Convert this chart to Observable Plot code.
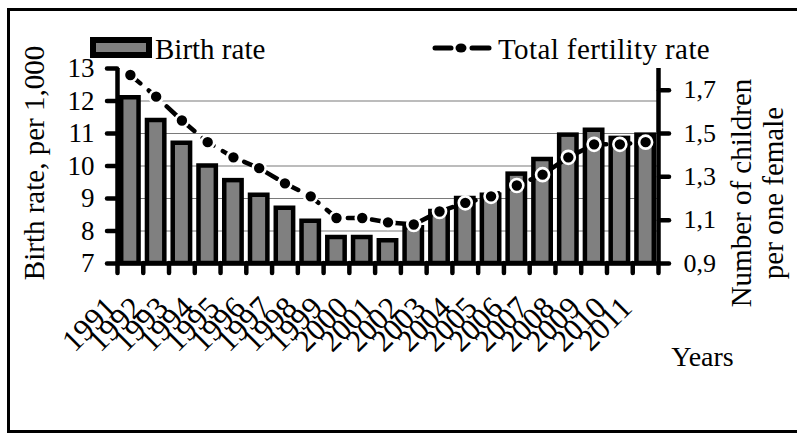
<!DOCTYPE html>
<html>
<head>
<meta charset="utf-8">
<script src="https://cdn.jsdelivr.net/npm/d3@7"></script>
<script src="https://cdn.jsdelivr.net/npm/@observablehq/plot@0.6"></script>
<style>
  html, body { margin: 0; padding: 0; background: #fff; overflow: hidden; }
  #wrap { position: relative; width: 797px; height: 434px; overflow: hidden; font-family: "Liberation Serif", "Times New Roman", serif; }
  #frame { position: absolute; left: 7px; top: 8px; width: 900px; height: 425px; border: 3px solid #000; box-sizing: border-box; pointer-events: none; }
  #chart { position: absolute; left: 0; top: 0; }
  #legend { position: absolute; left: 0; top: 0; pointer-events: none; }
</style>
</head>
<body>
<div id="wrap">
  <div id="frame"></div>
  <div id="chart"></div>
  <svg id="legend" width="797" height="434" font-family="Liberation Serif, Times New Roman, serif">
    <rect x="93" y="40" width="56" height="15" fill="#808080" stroke="#000" stroke-width="6"></rect>
    <text x="155" y="59" font-size="29">Birth rate</text>
    <line x1="435" x2="451" y1="48" y2="48" stroke="#000" stroke-width="5" stroke-linecap="round"></line>
    <ellipse cx="461" cy="48" rx="5.5" ry="4.5" fill="#000"></ellipse>
    <line x1="472" x2="489" y1="48" y2="48" stroke="#000" stroke-width="5" stroke-linecap="round"></line>
    <text x="498" y="59" font-size="29" letter-spacing="0.4">Total fertility rate</text>
  </svg>
</div>
<script>
// ---- data ----
const years = [1991, 1992, 1993, 1994, 1995, 1996, 1997, 1998, 1999, 2000, 2001,
               2002, 2003, 2004, 2005, 2006, 2007, 2008, 2009, 2010, 2011];
const birthRate = [12.1, 11.4, 10.7, 10.0, 9.55, 9.1, 8.7, 8.3, 7.8, 7.8, 7.7,
                   8.1, 8.6, 9.0, 9.1, 9.75, 10.2, 10.95, 11.1, 10.85, 10.95];
const fertilityRate = [1.77, 1.67, 1.56, 1.46, 1.39, 1.34, 1.27, 1.21, 1.11, 1.11, 1.09,
                       1.08, 1.14, 1.18, 1.21, 1.26, 1.31, 1.39, 1.45, 1.45, 1.46];
const leftTicks = [7, 8, 9, 10, 11, 12, 13];
const gridTicks = [8, 9, 10, 11, 12];
const rightTicks = [0.9, 1.1, 1.3, 1.5, 1.7];
const leftDomain = [7, 13];
const rightDomain = [0.9, 1.8];
const leftTitle = "Birth rate, per 1,000";
const rightTitle = "Number of children\nper one female";
const xTitle = "Years";

// ---- derived ----
const data = years.map((year, i) => ({year, birth: birthRate[i], tfr: fertilityRate[i]}));
const tfrToLeft = d3.scaleLinear().domain(rightDomain).range(leftDomain);
const xDomain = [years[0] - 0.5, years[years.length - 1] + 0.5];
const boundaries = years.map(y => y - 0.5).concat([years[years.length - 1] + 0.5]);
const serif = "Liberation Serif, Times New Roman, serif";
const commaFmt = d => d.toFixed(1).replace(".", ",");

const chart = Plot.plot({
  width: 797,
  height: 434,
  marginLeft: 117,
  marginRight: 139,
  marginTop: 68,
  marginBottom: 171,
  style: {fontFamily: serif, background: "transparent", color: "#000", overflow: "visible"},
  x: {domain: xDomain, axis: null},
  y: {domain: leftDomain, axis: null},
  marks: [
    Plot.gridY(gridTicks, {stroke: "#7a7a7a", strokeOpacity: 1, strokeWidth: 1.2}),
    Plot.rectY(data, {
      x1: d => d.year - 0.5, x2: d => d.year + 0.5,
      y1: leftDomain[0], y2: "birth",
      insetLeft: 4.2, insetRight: 4.2,
      fill: "#808080", stroke: "#000", strokeWidth: 4.5
    }),
    // axis lines
    Plot.ruleX([xDomain[0]], {y1: leftDomain[0], y2: leftDomain[1], stroke: "#000", strokeWidth: 4.5}),
    Plot.ruleX([xDomain[1]], {y1: leftDomain[0], y2: leftDomain[1], stroke: "#000", strokeWidth: 4.5}),
    Plot.ruleY([leftDomain[0]], {x1: xDomain[0], x2: xDomain[1], stroke: "#000", strokeWidth: 4.5}),
    // left axis
    Plot.axisY(leftTicks, {anchor: "left", tickSize: 10, tickPadding: 13, strokeWidth: 4.5, strokeLinecap: "round", fontSize: 27, label: null}),
    // right axis
    Plot.axisY(rightTicks, {anchor: "right", y: tfrToLeft, tickFormat: commaFmt, tickSize: 10, tickPadding: 15, strokeWidth: 4.5, strokeLinecap: "round", fontSize: 26, label: null}),
    // bottom ticks at category boundaries
    Plot.axisX(boundaries, {anchor: "bottom", tickSize: 10, tickFormat: () => "", strokeWidth: 4.5, strokeLinecap: "round", label: null}),
    // year labels
    Plot.text(data, {x: "year", frameAnchor: "bottom", text: d => String(d.year), rotate: -45, textAnchor: "end", lineAnchor: "bottom", dx: -12, dy: 46, fontSize: 31}),
    // fertility line
    Plot.line(data, {x: "year", y: d => tfrToLeft(d.tfr), stroke: "#000", strokeWidth: 4.5, strokeDasharray: "13,11", strokeLinecap: "round"}),
    Plot.dot(data, {x: "year", y: d => tfrToLeft(d.tfr), r: 6.5, fill: "#000", stroke: "#fff", strokeWidth: 2.6}),
    // titles
    Plot.text([leftTitle], {frameAnchor: "left", rotate: -90, dx: -83, dy: -3, fontSize: 29, textAnchor: "middle", lineAnchor: "middle"}),
    Plot.text([rightTitle], {frameAnchor: "right", rotate: -90, dx: 98, dy: 27, fontSize: 29, lineHeight: 1.12, textAnchor: "middle", lineAnchor: "middle"}),
    Plot.text([xTitle], {frameAnchor: "bottom-right", dx: 44, dy: 102, fontSize: 28, textAnchor: "middle", lineAnchor: "bottom"})
  ]
});
document.getElementById("chart").appendChild(chart);
</script>
</body>
</html>
